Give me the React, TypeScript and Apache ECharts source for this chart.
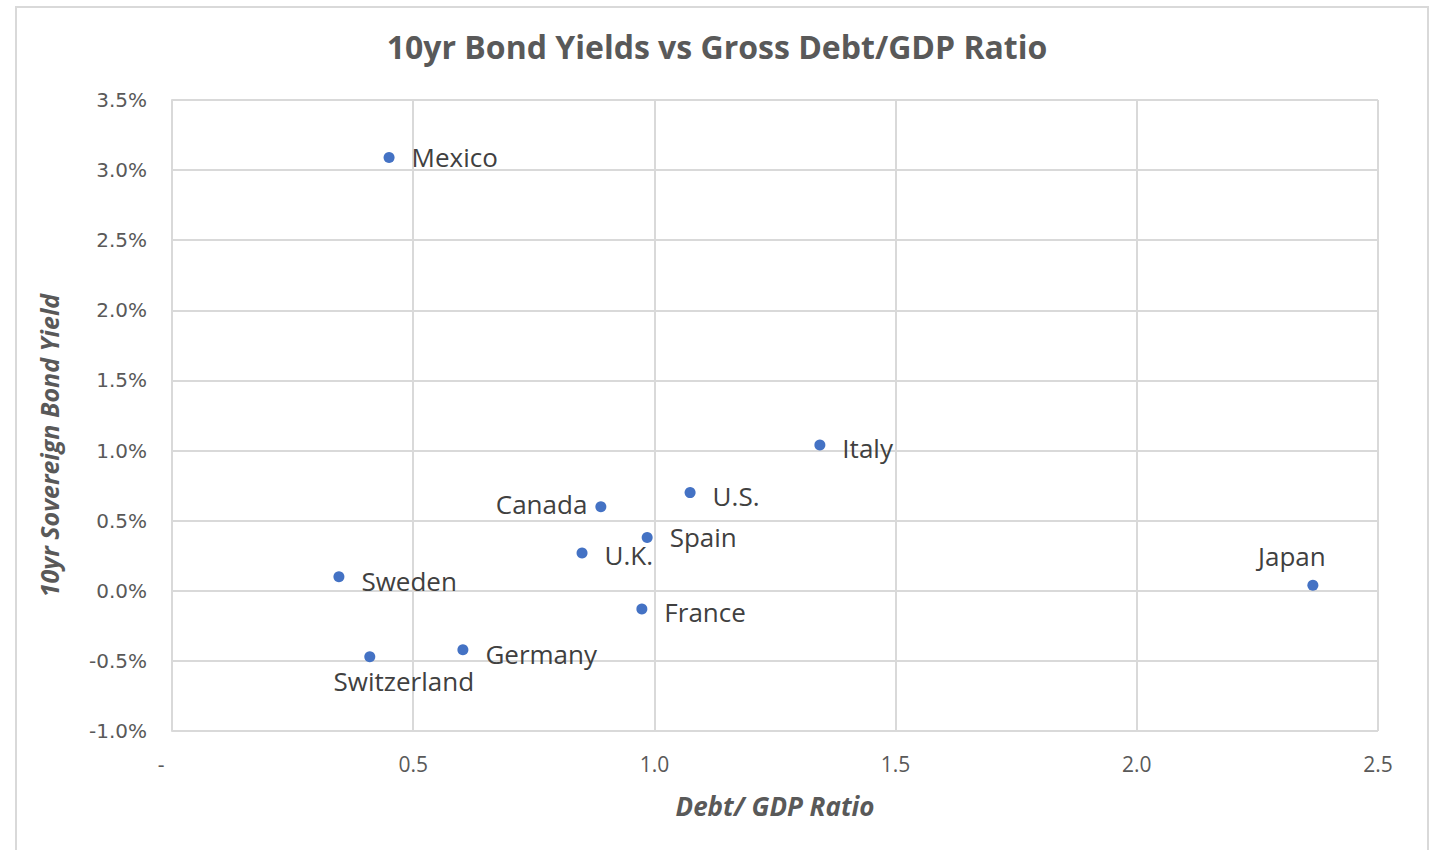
import React, { useEffect, useRef } from "react";
import * as echarts from "echarts";

const countries = ["Mexico", "Italy", "U.S.", "Canada", "Spain", "U.K.", "Sweden", "France", "Germany", "Switzerland", "Japan"];
const debtToGdp = [0.45, 1.343, 1.074, 0.889, 0.985, 0.85, 0.346, 0.974, 0.603, 0.41, 2.365];
const yieldPct = [3.09, 1.04, 0.7, 0.6, 0.38, 0.27, 0.1, -0.13, -0.42, -0.47, 0.04];
const labelPlacement = ["right", "right", "right", "left", "right", "right", "right", "right", "right", "bottom", "top"];
const labelOffsets: number[][] = [[0, 0], [0, 3], [0, 3], [9, -3], [0, 0], [0, 2], [0, 4], [0, 3], [0, 4], [34, 0], [-21, -5]];

export default function App() {
  const ref = useRef<HTMLDivElement>(null);
  useEffect(() => {
    if (!ref.current) return;
    const chart = echarts.init(ref.current, null, { renderer: "svg" });
    const data = countries.map((name, i) => ({
      name,
      value: [debtToGdp[i], yieldPct[i]],
      label: {
        position: labelPlacement[i],
        offset: labelOffsets[i],
        distance: labelPlacement[i] === "right" || labelPlacement[i] === "left" ? 17 : 6,
      },
    }));
    chart.setOption({
      animation: false,
      backgroundColor: "#ffffff",
      title: {
        text: "10yr Bond Yields vs Gross Debt/GDP Ratio",
        left: "center",
        top: 25,
        textStyle: { fontFamily: "Open Sans", fontWeight: "bold", fontSize: 32, color: "#595959" },
      },
      graphic: [
        {
          type: "rect",
          shape: { x: 16, y: 7, width: 1412, height: 870 },
          style: { fill: "none", stroke: "#d9d9d9", lineWidth: 2 },
          silent: true,
        },
      ],
      grid: { left: 172, right: 56, top: 100, bottom: 119, containLabel: false },
      xAxis: {
        type: "value",
        min: 0,
        max: 2.5,
        interval: 0.5,
        name: "Debt/ GDP Ratio",
        nameLocation: "middle",
        nameGap: 62,
        nameTextStyle: { fontFamily: "Open Sans", fontWeight: "bold", fontStyle: "italic", fontSize: 26, color: "#595959" },
        axisLine: { show: true, lineStyle: { color: "#d9d9d9", width: 2 } },
        axisTick: { show: false },
        splitLine: { show: true, lineStyle: { color: "#d9d9d9", width: 2 } },
        axisLabel: {
          margin: 22,
          fontFamily: "Open Sans",
          fontSize: 21,
          color: "#595959",
          formatter: (v: number) => (v === 0 ? "-    " : v.toFixed(1)),
        },
      },
      yAxis: {
        type: "value",
        min: -1,
        max: 3.5,
        interval: 0.5,
        name: "10yr Sovereign Bond Yield",
        nameLocation: "middle",
        nameGap: 111,
        nameTextStyle: {
          fontFamily: "Open Sans",
          fontWeight: "bold",
          fontStyle: "italic",
          fontSize: 25,
          color: "#595959",
          padding: [0, 60, 0, 0],
        },
        axisLine: { show: true, lineStyle: { color: "#d9d9d9", width: 2 } },
        axisTick: { show: false },
        splitLine: { show: true, lineStyle: { color: "#d9d9d9", width: 2 } },
        axisLabel: {
          margin: 25,
          fontFamily: "DejaVu Sans",
          fontSize: 20,
          color: "#595959",
          formatter: (v: number) => v.toFixed(1) + "%",
        },
      },
      series: [
        {
          type: "scatter",
          symbol: "circle",
          symbolSize: 11,
          itemStyle: { color: "#4472C4", opacity: 1 },
          label: {
            show: true,
            formatter: "{b}",
            fontFamily: "Open Sans",
            fontSize: 26,
            color: "#404040",
          },
          data,
        },
      ],
    });
    return () => chart.dispose();
  }, []);
  return (
    <div
      ref={ref}
      style={{ position: "fixed", left: 0, top: 0, width: 1434, height: 850 }}
    />
  );
}
